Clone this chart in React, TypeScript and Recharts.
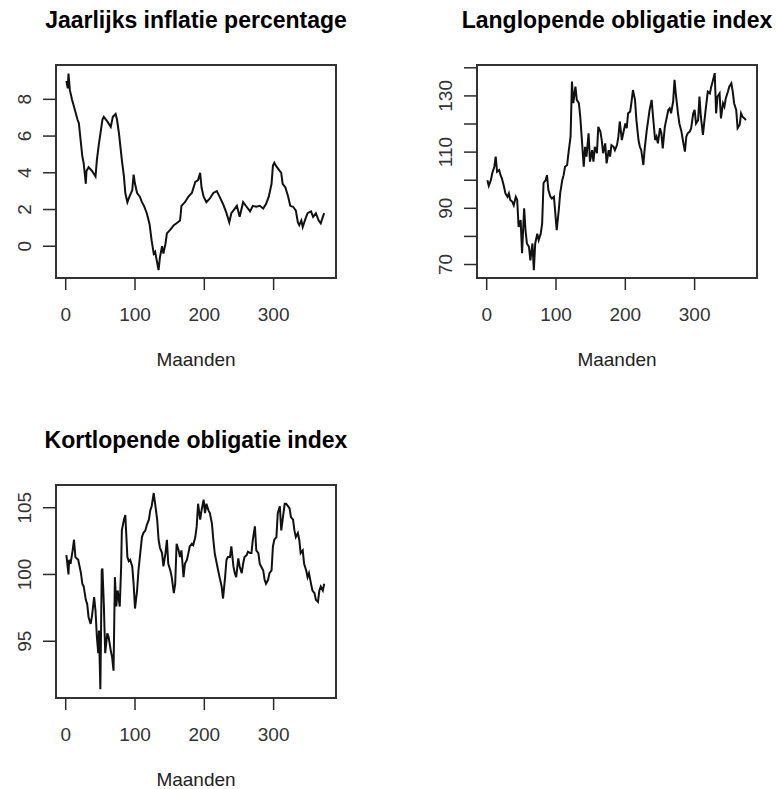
import { Line, LineChart, ReferenceArea, XAxis, YAxis } from 'recharts'

const FONT = '"Liberation Sans", Arial, Helvetica, sans-serif'
const INK = '#2a2a2a'

const X_TICKS = [0, 100, 200, 300]
const X_DOMAIN: [number, number] = [-14, 390]
const X_LABEL = 'Maanden'

// Jaarlijks inflatie percentage
const INFLATIE_MAANDEN = [
  1, 3, 4, 6, 9, 12, 17, 19, 22, 24, 26, 29, 30, 33, 38, 43, 45, 48, 50, 53,
  55, 60, 65, 68, 72, 74, 77, 79, 81, 84, 86, 89, 92, 96, 98, 100, 103, 107, 110, 113,
  117, 121, 124, 127, 129, 132, 134, 136, 139, 141, 144, 146, 151, 156, 160, 165, 167, 172, 177, 182,
  187, 191, 194, 196, 199, 203, 208, 213, 218, 222, 227, 232, 236, 239, 244, 247, 251, 256, 261, 266,
  270, 275, 280, 285, 289, 293, 297, 299, 301, 303, 308, 311, 313, 317, 321, 324, 328, 332, 335, 337,
  340, 342, 346, 349, 354, 357, 361, 365, 368, 371, 373,
]
const INFLATIE = [
  9.0, 8.6, 9.4, 8.5, 8.0, 7.6, 6.9, 6.7, 5.6, 4.9, 4.5, 3.4, 4.1, 4.3, 4.1, 3.8, 4.7, 5.6, 6.1, 6.9,
  7.05, 6.8, 6.5, 7.05, 7.2, 6.9, 6.1, 5.4, 4.7, 3.8, 2.9, 2.4, 2.7, 3.05, 3.9, 3.4, 2.9, 2.7, 2.4, 2.2,
  1.8, 1.2, 0.3, -0.4, -0.3, -0.9, -1.3, -0.6, 0.0, -0.4, 0.15, 0.7, 0.9, 1.15, 1.25, 1.4, 2.2, 2.4, 2.7, 2.9,
  3.5, 3.6, 4.0, 3.2, 2.7, 2.4, 2.6, 2.9, 3.0, 2.7, 2.3, 1.8, 1.3, 1.8, 2.05, 2.2, 1.6, 2.4, 2.15, 1.9,
  2.2, 2.15, 2.2, 2.05, 2.3, 2.7, 3.4, 4.4, 4.55, 4.4, 4.15, 4.0, 3.4, 3.2, 2.7, 2.2, 2.15, 1.95, 1.3, 1.15,
  1.4, 1.05, 1.5, 1.8, 1.9, 1.6, 1.8, 1.4, 1.25, 1.6, 1.8,
]
const INFLATIE_TICKS = [0, 2, 4, 6, 8]

// Langlopende obligatie index
const LANG_MAANDEN = [
  1, 3, 6, 8, 11, 13, 15, 18, 20, 22, 25, 27, 30, 32, 34, 37, 39, 42, 44, 46,
  49, 51, 54, 56, 58, 61, 63, 66, 68, 70, 73, 75, 78, 80, 82, 85, 87, 89, 92, 94,
  97, 99, 101, 104, 106, 109, 111, 113, 116, 118, 121, 123, 125, 128, 130, 133, 135, 137, 140, 142,
  144, 147, 149, 152, 154, 156, 159, 161, 164, 166, 168, 171, 173, 176, 178, 180, 183, 185, 188, 190,
  192, 195, 197, 200, 202, 204, 207, 209, 211, 214, 216, 219, 221, 223, 226, 228, 231, 233, 235, 238,
  240, 243, 245, 247, 250, 252, 254, 257, 259, 262, 264, 266, 269, 271, 273, 276, 278, 281, 283, 286,
  288, 290, 293, 295, 298, 300, 302, 305, 307, 309, 312, 314, 317, 319, 322, 324, 326, 329, 331, 333,
  336, 338, 341, 343, 345, 348, 350, 353, 355, 357, 360, 362, 365, 367, 369, 372, 374,
]
const LANG = [
  100, 98, 100, 102.5, 104.8, 108.4, 103, 103.6, 101.8, 100.6, 97.7, 95.3, 94.1, 95.3, 93, 92.3, 91.1, 94.1, 93, 83.4,
  85.8, 74, 90, 82.2, 77.5, 76.3, 71.5, 77.5, 68, 77.5, 81, 78.7, 81, 84.6, 99, 100, 101.8, 96.5, 94.1, 93.5,
  94.1, 88.2, 82.2, 89.4, 95.3, 100, 101.8, 104.8, 105.4, 109.6, 115.5, 135.1, 127.4, 133.3, 128.6, 127.4, 122.6, 115.5, 104.8, 111.9,
  108.4, 116.7, 106.6, 110.7, 106.6, 111.9, 109.6, 119, 117.3, 114.3, 109.6, 113.1, 106, 110.7, 108.4, 112.5, 111.9, 110.7, 112.5, 115.5,
  120.9, 114.3, 116.7, 120.2, 118.5, 123.8, 124.4, 128, 132.1, 128.6, 121.4, 114.3, 111.9, 110.7, 105.4, 111.3, 117.9, 121.4, 125, 128.6,
  122.6, 114.3, 115.5, 113.1, 118.5, 116.7, 111.3, 119, 121.4, 125, 125.6, 123.8, 128, 135.7, 130.4, 123.8, 120.2, 117.3, 114.3, 110.2,
  115.5, 116.7, 117.3, 118.5, 123.8, 125, 120.2, 121.4, 129.8, 122.6, 116.1, 120.9, 127.4, 131.5, 130.9, 133.3, 135.1, 138.1, 123.8, 129.8,
  130.9, 122, 127.4, 126.2, 129.2, 131.5, 133.3, 134.5, 131.5, 127.4, 125, 118.5, 119.7, 123.8, 122.6, 122, 121.4,
]
const LANG_TICKS = [70, 80, 90, 100, 110, 120, 130, 140]
const LANG_LABELS = [70, 90, 110, 130]

// Kortlopende obligatie index
const KORT_MAANDEN = [
  1, 4, 5, 7, 10, 12, 14, 18, 22, 24, 26, 29, 31, 33, 36, 38, 41, 43, 45, 47,
  48, 50, 52, 53, 55, 57, 60, 62, 65, 67, 69, 71, 73, 75, 78, 80, 81, 84, 86, 89,
  91, 93, 96, 98, 100, 103, 105, 108, 110, 112, 115, 117, 120, 122, 124, 127, 129, 132, 134, 136,
  139, 141, 144, 146, 148, 151, 153, 156, 158, 160, 163, 165, 167, 170, 172, 175, 177, 179, 182, 184,
  187, 189, 191, 194, 196, 199, 201, 203, 206, 208, 211, 213, 215, 218, 220, 222, 225, 227, 230, 232,
  234, 237, 239, 242, 244, 246, 249, 251, 254, 256, 258, 261, 263, 266, 268, 270, 273, 275, 278, 280,
  282, 285, 287, 289, 292, 294, 297, 299, 301, 304, 306, 309, 311, 313, 316, 318, 321, 323, 325, 328,
  330, 332, 335, 337, 339, 342, 344, 347, 349, 351, 354, 356, 359, 361, 364, 366, 368, 371, 373,
]
const KORT = [
  101.45, 100.0, 101.1, 100.8, 101.8, 102.6, 101.3, 101.1, 100.1, 99.3, 99.1, 98.1, 97.8, 96.8, 96.3, 96.9, 98.3, 97.3, 95.3, 94.1,
  95.8, 91.4, 100.3, 100.45, 97.8, 94.1, 95.6, 95.3, 94.3, 93.8, 92.8, 99.8, 97.6, 98.8, 97.6, 100.6, 103.3, 104.1, 104.45, 101.3,
  101, 101.1, 100.6, 99.3, 97.45, 98.8, 100.3, 101.8, 102.8, 103.1, 103.3, 103.7, 104.1, 104.8, 105.1, 106.1, 105.3, 104.1, 102.6, 102,
  101.6, 100.6, 101.6, 102.6, 100.8, 100.3, 99.8, 98.6, 99.3, 102.3, 101.8, 101.3, 101.8, 99.8, 100.8, 101.1, 101.6, 102.1, 102.3, 102.2,
  102.8, 103.6, 105.3, 104.1, 104.8, 105.6, 104.6, 105.3, 104.8, 104.6, 103.8, 102.6, 101.6, 100.8, 100.3, 99.8, 99.1, 98.2, 99.8, 101.1,
  101.3, 101.3, 102.1, 100.6, 100.1, 99.8, 101.2, 100.6, 100.1, 100.8, 101.3, 101.45, 101.7, 101.6, 101.6, 102.6, 103.6, 101.8, 101.6, 100.8,
  100.6, 100.3, 99.6, 99.3, 99.6, 100.1, 100.3, 102.1, 102.6, 102.8, 104.6, 105.1, 103.3, 104.1, 105.3, 105.3, 105.1, 104.95, 104.3, 104.1,
  103.3, 102.8, 103.1, 102.6, 101.6, 101.8, 100.8, 100.3, 99.8, 100.1, 99.3, 98.8, 98.6, 98.1, 97.95, 98.8, 99.1, 98.8, 99.3,
]
const KORT_TICKS = [95, 100, 105]

type Point = { maand: number; waarde: number }

const zip = (maanden: number[], waarden: number[]): Point[] =>
  maanden.slice(0, waarden.length).map((m, i) => ({ maand: m, waarde: waarden[i] }))

const CHART_W = 390
const CHART_H = 340
const PLOT_TOP = 65
const PLOT_W = 280
const PLOT_H = 213
const Y_AXIS_W = 50
const X_AXIS_H = 50

type PanelProps = {
  left: number
  top: number
  plotLeft: number
  title: string
  data: Point[]
  yDomain: [number, number]
  yTicks: number[]
  yLabels?: number[]
}

function Panel({ left, top, plotLeft, title, data, yDomain, yTicks, yLabels }: PanelProps) {
  const center = plotLeft + PLOT_W / 2
  const labels = yLabels ?? yTicks
  const tickBase = PLOT_TOP + PLOT_H + 43

  return (
    <div style={{ position: 'absolute', left, top, width: CHART_W, height: 380 }}>
      <div
        style={{
          position: 'absolute',
          left: center - 200,
          top: 9,
          width: 400,
          textAlign: 'center',
          fontFamily: FONT,
          fontSize: 23,
          lineHeight: '23px',
          fontWeight: 'bold',
          color: '#000',
          whiteSpace: 'nowrap',
        }}
      >
        {title}
      </div>
      <div style={{ position: 'absolute', left: 0, top: 0 }}>
        <LineChart
          width={CHART_W}
          height={CHART_H}
          data={data}
          margin={{
            top: PLOT_TOP,
            left: plotLeft - Y_AXIS_W,
            right: CHART_W - plotLeft - PLOT_W,
            bottom: CHART_H - PLOT_TOP - PLOT_H - X_AXIS_H,
          }}
        >
          <XAxis
            dataKey="maand"
            type="number"
            domain={X_DOMAIN}
            ticks={X_TICKS}
            interval={0}
            allowDataOverflow
            height={X_AXIS_H}
            axisLine={false}
            tickSize={12}
            tickLine={{ stroke: INK, strokeWidth: 1.5 }}
            tick={(p: any) => (
              <text
                x={p.x}
                y={tickBase}
                textAnchor="middle"
                fontFamily={FONT}
                fontSize={19}
                fill="#333"
              >
                {p.payload.value}
              </text>
            )}
          />
          <YAxis
            type="number"
            domain={yDomain}
            ticks={yTicks}
            interval={0}
            allowDataOverflow
            width={Y_AXIS_W}
            axisLine={false}
            tickSize={13}
            tickLine={{ stroke: INK, strokeWidth: 1.5 }}
            tick={(p: any) =>
              labels.includes(p.payload.value) ? (
                <text
                  transform={`translate(${plotLeft - 25}, ${p.y}) rotate(-90)`}
                  textAnchor="middle"
                  fontFamily={FONT}
                  fontSize={19}
                  fill="#333"
                >
                  {p.payload.value}
                </text>
              ) : (
                <g />
              )
            }
          />
          <ReferenceArea
            x1={X_DOMAIN[0]}
            x2={X_DOMAIN[1]}
            y1={yDomain[0]}
            y2={yDomain[1]}
            fill="none"
            stroke="#333"
            strokeWidth={2}
            ifOverflow="visible"
          />
          <Line
            type="linear"
            dataKey="waarde"
            stroke="#111"
            strokeWidth={2}
            dot={false}
            activeDot={false}
            isAnimationActive={false}
          />
        </LineChart>
      </div>
      <div
        style={{
          position: 'absolute',
          left: center - 100,
          top: 350,
          width: 200,
          textAlign: 'center',
          fontFamily: FONT,
          fontSize: 19,
          lineHeight: '19px',
          color: '#222',
        }}
      >
        {X_LABEL}
      </div>
    </div>
  )
}

export default function App() {
  return (
    <div
      style={{
        position: 'absolute',
        left: 0,
        top: 0,
        width: 780,
        height: 789,
        background: '#fff',
        overflow: 'hidden',
      }}
    >
      <Panel
        left={0}
        top={0}
        plotLeft={56}
        title="Jaarlijks inflatie percentage"
        data={zip(INFLATIE_MAANDEN, INFLATIE)}
        yDomain={[-1.73, 9.87]}
        yTicks={INFLATIE_TICKS}
      />
      <Panel
        left={390}
        top={0}
        plotLeft={87}
        title="Langlopende obligatie index"
        data={zip(LANG_MAANDEN, LANG)}
        yDomain={[65.2, 141.0]}
        yTicks={LANG_TICKS}
        yLabels={LANG_LABELS}
      />
      <Panel
        left={0}
        top={420}
        plotLeft={56}
        title="Kortlopende obligatie index"
        data={zip(KORT_MAANDEN, KORT)}
        yDomain={[90.75, 106.7]}
        yTicks={KORT_TICKS}
      />
    </div>
  )
}
